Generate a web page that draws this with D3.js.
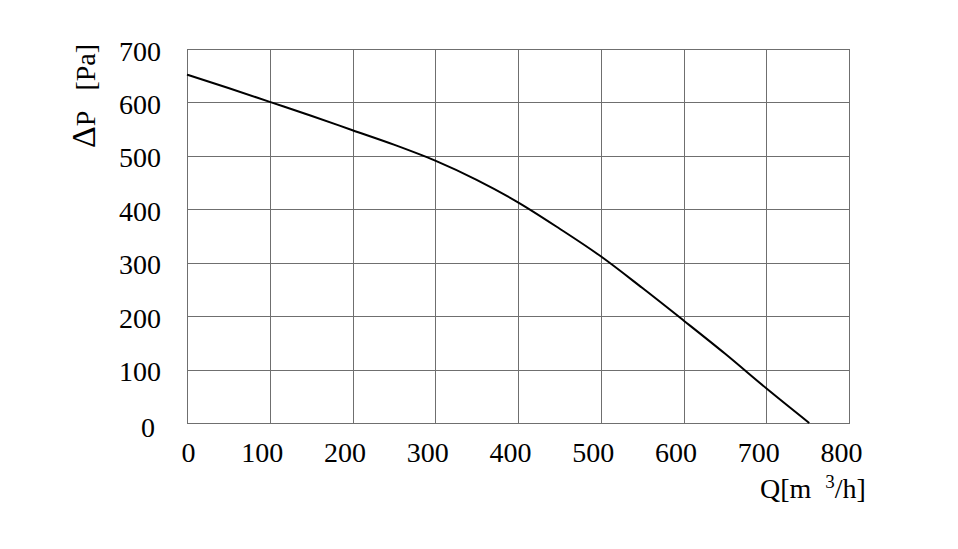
<!DOCTYPE html>
<html>
<head>
<meta charset="utf-8">
<script src="https://cdn.jsdelivr.net/npm/d3@7"></script>
<style>
  body { margin: 0; background: #fff; }
  text { font-family: "Liberation Serif", "DejaVu Serif", serif; fill: #000; }
</style>
</head>
<body>
<div id="chart"></div>
<script>
(function() {
    // fan curve: airflow Q [m3/h] vs static pressure dP [Pa]
    var flow = [0, 50, 100, 150, 200, 250, 300, 350, 400, 450, 500, 550, 600, 650, 700, 752];
    var pressure = [652, 627, 601, 575, 548, 521, 491, 455, 413, 364, 312, 253, 192, 130, 65, 0];
    var xTicks = [0, 100, 200, 300, 400, 500, 600, 700, 800];
    var yTicks = [0, 100, 200, 300, 400, 500, 600, 700];

    var margin = {
            top: 49,
            left: 187,
            right: 109,
            bottom: 126
        },
        width = 958 - margin.left - margin.right,
        height = 549 - margin.top - margin.bottom;

    var svg = d3.select("#chart")
        .append("svg")
        .attr("width", 958)
        .attr("height", 549)
        .append("g")
        .attr("transform", "translate(" + margin.left + "," + margin.top + ")");

    var x = d3.scaleLinear().domain([0, 800]).range([0, width]);
    var y = d3.scaleLinear().domain([0, 700]).range([height, 0]);

    var xAxis = svg.append("g")
        .attr("transform", "translate(0," + height + ")")
        .call(d3.axisBottom(x).tickValues(xTicks).tickSize(-height).tickSizeOuter(0).tickPadding(0));

    var yAxis = svg.append("g")
        .call(d3.axisLeft(y).tickValues(yTicks).tickSize(-width).tickSizeOuter(0).tickPadding(0));

    [xAxis, yAxis].forEach(function(a) {
        a.select(".domain").remove();
        a.selectAll(".tick line")
            .attr("stroke", "#6f6f6f")
            .attr("stroke-width", 1)
            .attr("shape-rendering", "crispEdges");
        a.selectAll(".tick text")
            .attr("font-size", 28)
            .attr("fill", "#000");
    });

    xAxis.selectAll(".tick text")
        .attr("y", 39)
        .attr("dy", 0)
        .attr("dx", d => d === 0 ? 1 : -8);

    yAxis.selectAll(".tick text")
        .attr("x", -26)
        .attr("dy", d => d === 0 ? 13 : 11)
        .attr("dx", d => d === 0 ? -6 : 0);

    // frame
    svg.append("rect")
        .attr("width", width)
        .attr("height", height)
        .attr("fill", "none")
        .attr("stroke", "#6f6f6f")
        .attr("shape-rendering", "crispEdges");

    var line = d3.line()
        .x((d, i) => x(flow[i]))
        .y(d => y(d))
        .curve(d3.curveMonotoneX);

    svg.append("path")
        .datum(pressure)
        .attr("d", line)
        .attr("fill", "none")
        .attr("stroke", "#000")
        .attr("stroke-width", 2);

    // axis titles
    var t = svg.append("text")
        .attr("transform", "translate(" + (-92) + "," + 99 + ") rotate(-90)")
        .attr("text-anchor", "start")
        .attr("font-size", 28);
    t.append("tspan").attr("font-size", 34).text("\u0394");
    t.append("tspan").text("P");
    t.append("tspan").attr("dx", 20).text("[Pa]");

    var q = svg.append("text")
        .attr("x", 573)
        .attr("y", 449)
        .attr("font-size", 28);
    q.append("tspan").text("Q[m");
    q.append("tspan").attr("dx", 14).attr("dy", -10).attr("font-size", 19).text("3");
    q.append("tspan").attr("dy", 10).text("/h]");
})();
</script>
</body>
</html>
